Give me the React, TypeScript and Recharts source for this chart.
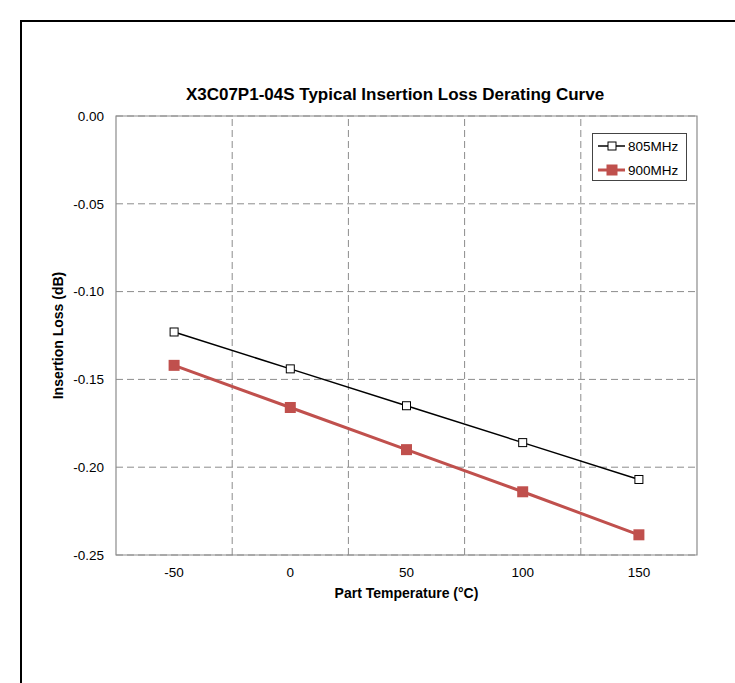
import {
    LineChart,
    Line,
    XAxis,
    YAxis,
    CartesianGrid,
    ReferenceLine,
    ReferenceArea,
    Legend,
} from "recharts";

const temps = [-50, 0, 50, 100, 150];
const loss805 = [-0.123, -0.144, -0.165, -0.186, -0.207];
const loss900 = [-0.142, -0.166, -0.19, -0.214, -0.2385];
const xTicks = [-50, 0, 50, 100, 150];
const xGrid = [-25, 25, 75, 125];
const yTicks = [0, -0.05, -0.1, -0.15, -0.2, -0.25];

const data = temps.map((t, i) => ({ temp: t, f805: loss805[i], f900: loss900[i] }));

const FONT = "'Liberation Sans', Arial, Helvetica, sans-serif";
const RED = "#c0504d";
const GRID = "#8c8c8c";

function HollowSquare(props: any) {
    const { cx, cy } = props;
    if (cx == null || cy == null) return null;
    return <rect x={cx - 4} y={cy - 4} width={8} height={8} fill="#fff" stroke="#000" strokeWidth={1} />;
}

function FilledSquare(props: any) {
    const { cx, cy } = props;
    if (cx == null || cy == null) return null;
    return <rect x={cx - 5.5} y={cy - 5.5} width={11} height={11} fill={RED} stroke="none" />;
}

function LegendBox() {
    return (
        <div
            style={{
                border: "1px solid #444",
                background: "#fff",
                width: 95,
                height: 48,
                fontFamily: FONT,
                fontSize: 13,
                boxSizing: "border-box",
            }}
        >
            <svg width={93} height={46} style={{ display: "block" }}>
                <line x1={5} x2={32} y1={12} y2={12} stroke="#000" strokeWidth={1.5} />
                <rect x={15} y={8} width={8} height={8} fill="#fff" stroke="#000" />
                <text x={35} y={16.5} fontSize={13.5} fill="#000">805MHz</text>
                <line x1={5} x2={32} y1={36} y2={36} stroke={RED} strokeWidth={3} />
                <rect x={13.5} y={30.5} width={11} height={11} fill={RED} />
                <text x={35} y={40.5} fontSize={13.5} fill="#000">900MHz</text>
            </svg>
        </div>
    );
}

export default function App() {
    return (
        <div
            style={{
                position: "absolute",
                left: 0,
                top: 0,
                width: 735,
                height: 683,
                overflow: "hidden",
                background: "#fff",
                fontFamily: FONT,
            }}
        >
            <div
                style={{
                    position: "absolute",
                    left: 20,
                    top: 20,
                    width: 900,
                    height: 900,
                    borderLeft: "2px solid #000",
                    borderTop: "2px solid #000",
                }}
            />
            <div
                style={{
                    position: "absolute",
                    left: 95,
                    width: 600,
                    top: 85,
                    textAlign: "center",
                    fontWeight: "bold",
                    fontSize: 17,
                    color: "#000",
                }}
            >
                X3C07P1-04S Typical Insertion Loss Derating Curve
            </div>
            <LineChart
                width={735}
                height={683}
                data={data}
                margin={{ top: 116, right: 38, bottom: 78, left: 0 }}
                style={{ position: "absolute", left: 0, top: 0 }}
            >
                <CartesianGrid vertical={false} stroke={GRID} strokeDasharray="7 4" />
                {xGrid.map((g) => (
                    <ReferenceLine key={g} x={g} stroke={GRID} strokeDasharray="7 4" />
                ))}
                <ReferenceArea x1={-75} x2={175} y1={-0.25} y2={0} fill="none" stroke={GRID} strokeWidth={1.2} />
                <XAxis
                    dataKey="temp"
                    type="number"
                    domain={[-75, 175]}
                    ticks={xTicks}
                    axisLine={false}
                    tickLine={false}
                    tickSize={6}
                    tickMargin={6}
                    height={50}
                    tick={{ fontSize: 13.5, fill: "#000", fontFamily: FONT }}
                    label={{
                        value: "Part Temperature (°C)",
                        position: "insideBottom",
                        offset: 7,
                        style: { fontSize: 14, fontWeight: "bold", fill: "#000", fontFamily: FONT },
                    }}
                />
                <YAxis
                    type="number"
                    domain={[-0.25, 0]}
                    ticks={yTicks}
                    width={116}
                    axisLine={false}
                    tickLine={false}
                    tickSize={6}
                    tickMargin={6}
                    tickFormatter={(v: number) => v.toFixed(2)}
                    tick={{ fontSize: 13.5, fill: "#000", fontFamily: FONT }}
                    label={{
                        value: "Insertion Loss (dB)",
                        angle: -90,
                        position: "center",
                        style: { fontSize: 14, fontWeight: "bold", fill: "#000", fontFamily: FONT, textAnchor: "middle" },
                    }}
                />
                <Legend
                    layout="horizontal"
                    verticalAlign="middle"
                    align="center"
                    content={() => <LegendBox />}
                    wrapperStyle={{ position: "absolute", left: 592, top: 133, width: 95 }}
                />
                <Line
                    dataKey="f805"
                    name="805MHz"
                    stroke="#000"
                    strokeWidth={1.5}
                    dot={<HollowSquare />}
                    activeDot={false}
                    isAnimationActive={false}
                />
                <Line
                    dataKey="f900"
                    name="900MHz"
                    stroke={RED}
                    strokeWidth={3}
                    dot={<FilledSquare />}
                    activeDot={false}
                    isAnimationActive={false}
                />
            </LineChart>
        </div>
    );
}
